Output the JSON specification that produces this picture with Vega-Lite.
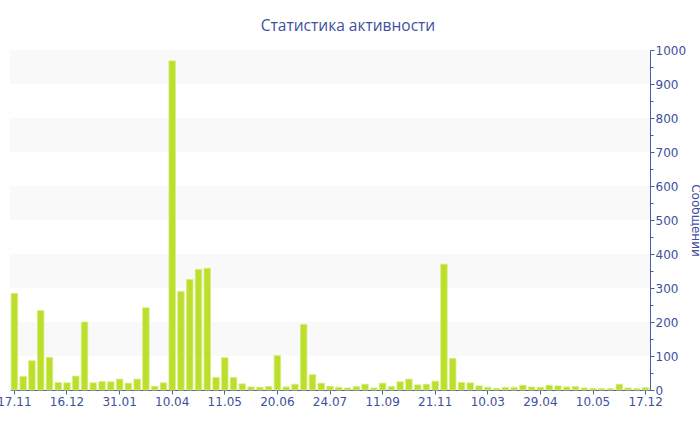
{
  "$schema": "https://vega.github.io/schema/vega-lite/v6.json",
  "width": 640,
  "height": 340,
  "autosize": {"type": "none"},
  "padding": {"left": 10, "top": 50, "right": 50, "bottom": 40},
  "background": "white",
  "config": {"view": {"stroke": null}},
  "title": {
    "text": "Статистика активности",
    "font": "Open Sans",
    "fontSize": 15.5,
    "fontWeight": "normal",
    "color": "#3e4f9e",
    "anchor": "middle",
    "dx": 18,
    "offset": 10
  },
  "datasets": {
    "bands": [
      {"v": 100, "hi": 200},
      {"v": 300, "hi": 400},
      {"v": 500, "hi": 600},
      {"v": 700, "hi": 800},
      {"v": 900, "hi": 1000}
    ],
    "msgs": [
      {"n": 0, "v": 284}, {"n": 1, "v": 40}, {"n": 2, "v": 86}, {"n": 3, "v": 234},
      {"n": 4, "v": 96}, {"n": 5, "v": 22}, {"n": 6, "v": 21}, {"n": 7, "v": 41},
      {"n": 8, "v": 200}, {"n": 9, "v": 21}, {"n": 10, "v": 25}, {"n": 11, "v": 24},
      {"n": 12, "v": 32}, {"n": 13, "v": 20}, {"n": 14, "v": 32}, {"n": 15, "v": 242},
      {"n": 16, "v": 11}, {"n": 17, "v": 21}, {"n": 18, "v": 968}, {"n": 19, "v": 290},
      {"n": 20, "v": 325}, {"n": 21, "v": 355}, {"n": 22, "v": 358}, {"n": 23, "v": 37},
      {"n": 24, "v": 95}, {"n": 25, "v": 37}, {"n": 26, "v": 18}, {"n": 27, "v": 9},
      {"n": 28, "v": 8}, {"n": 29, "v": 10}, {"n": 30, "v": 101}, {"n": 31, "v": 9},
      {"n": 32, "v": 17}, {"n": 33, "v": 193}, {"n": 34, "v": 45}, {"n": 35, "v": 20},
      {"n": 36, "v": 11}, {"n": 37, "v": 8}, {"n": 38, "v": 6}, {"n": 39, "v": 10},
      {"n": 40, "v": 17}, {"n": 41, "v": 6}, {"n": 42, "v": 20}, {"n": 43, "v": 10},
      {"n": 44, "v": 24}, {"n": 45, "v": 32}, {"n": 46, "v": 15}, {"n": 47, "v": 17},
      {"n": 48, "v": 26}, {"n": 49, "v": 370}, {"n": 50, "v": 93}, {"n": 51, "v": 22},
      {"n": 52, "v": 21}, {"n": 53, "v": 12}, {"n": 54, "v": 8}, {"n": 55, "v": 5},
      {"n": 56, "v": 8}, {"n": 57, "v": 8}, {"n": 58, "v": 14}, {"n": 59, "v": 9},
      {"n": 60, "v": 8}, {"n": 61, "v": 14}, {"n": 62, "v": 12}, {"n": 63, "v": 9},
      {"n": 64, "v": 10}, {"n": 65, "v": 6}, {"n": 66, "v": 5}, {"n": 67, "v": 4},
      {"n": 68, "v": 4}, {"n": 69, "v": 17}, {"n": 70, "v": 6}, {"n": 71, "v": 4},
      {"n": 72, "v": 7}
    ]
  },
  "encoding": {
    "y": {
      "field": "v",
      "type": "quantitative",
      "scale": {"domain": [0, 1000], "nice": false},
      "axis": {
        "orient": "right",
        "title": "Сообщений",
        "titleFont": "DejaVu Sans",
        "titleFontSize": 12,
        "titleFontWeight": "normal",
        "titleColor": "#3e4f9e",
        "titleAngle": 90,
        "titlePadding": 3,
        "values": [0, 50, 100, 150, 200, 250, 300, 350, 400, 450, 500, 550, 600, 650, 700, 750, 800, 850, 900, 950, 1000],
        "labelExpr": "datum.value % 100 === 0 ? format(datum.value, 'd') : ''",
        "labelFont": "DejaVu Sans",
        "labelFontSize": 12,
        "labelColor": "#3e4f9e",
        "labelPadding": 1,
        "labelOverlap": false,
        "labelFlush": false,
        "domainColor": "#4a5ca8",
        "tickColor": "#4a5ca8",
        "tickSize": {"condition": {"test": "datum.value % 100 === 0", "value": 4}, "value": 3},
        "grid": false
      }
    }
  },
  "layer": [
    {
      "data": {"name": "bands"},
      "mark": {"type": "rect", "color": "#f9f9f9"},
      "encoding": {
        "y2": {"field": "hi"}
      }
    },
    {
      "data": {"name": "msgs"},
      "mark": {"type": "bar", "color": "#bbdf2c", "stroke": "#d6ee7a", "strokeWidth": 0.8},
      "encoding": {
        "x": {
          "field": "n",
          "type": "ordinal",
          "sort": null,
          "scale": {"paddingInner": 0.26, "paddingOuter": 0.13},
          "axis": {
            "title": null,
            "values": [0, 6, 12, 18, 24, 30, 36, 42, 48, 54, 60, 66, 72],
            "labelExpr": "['17.11','16.12','31.01','10.04','11.05','20.06','24.07','11.09','21.11','10.03','29.04','10.05','17.12'][datum.value / 6]",
            "labelAngle": 0,
            "labelFont": "DejaVu Sans",
            "labelFontSize": 12,
            "labelColor": "#3e4f9e",
            "labelPadding": 2,
            "labelOverlap": false,
            "labelBound": false,
            "labelFlush": false,
            "domainColor": "#4a5ca8",
            "domainWidth": 1,
            "tickColor": "#4a5ca8",
            "tickSize": 4,
            "grid": false
          }
        }
      }
    }
  ]
}
